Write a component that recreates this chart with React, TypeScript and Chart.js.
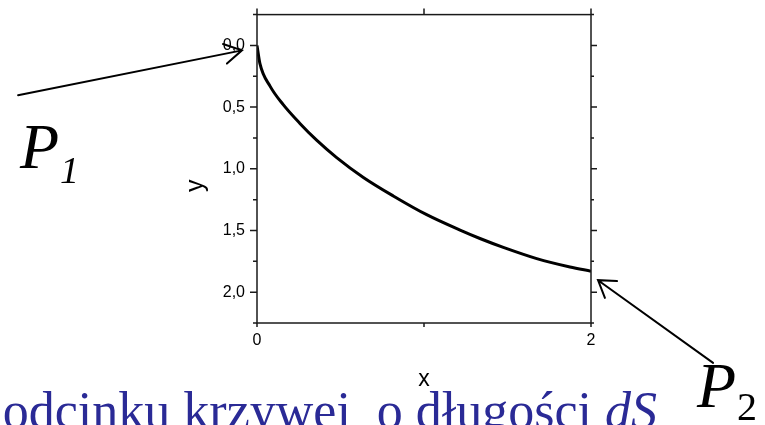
import React, { useEffect, useRef } from "react";
import { Chart, registerables } from "chart.js";

Chart.register(...registerables);

// ---- data ----
const curveX = [0, 0.018, 0.078, 0.157, 0.257, 0.357, 0.477, 0.637, 0.816, 1.016, 1.216, 1.335, 1.475, 1.675, 1.874, 2.0];
const curveY = [0, 0.15, 0.33, 0.48, 0.632, 0.768, 0.909, 1.07, 1.22, 1.372, 1.497, 1.565, 1.637, 1.728, 1.796, 1.83];

const xTickValues = [0, 1, 2];
const xTickLabelValues = [0, 2];
const yTickValues = [-0.25, 0, 0.25, 0.5, 0.75, 1, 1.25, 1.5, 1.75, 2, 2.25];
const yTickLabelValues = [0, 0.5, 1, 1.5, 2];

const xTitle = "x";
const yTitle = "y";
const pointLetter = "P";
const p1Index = "1";
const p2Index = "2";
const captionUpright = "odcinku krzywej  o długości ";
const captionItalic = "dS";

// annotation anchors in data units (tail -> tip)
const arrow1Tail = [-1.431, 0.403];
const arrow1Tip = [-0.09, 0.04];
const arrow2Tail = [2.731, 2.573];
const arrow2Tip = [2.042, 1.903];
const p1Anchor = [-1.419, 0.992];
const p2Anchor = [2.635, 2.927];

function drawArrow(ctx: CanvasRenderingContext2D, x0: number, y0: number, x1: number, y1: number, headLen: number, headAng: number) {
  const ang = Math.atan2(y0 - y1, x0 - x1);
  ctx.beginPath();
  ctx.moveTo(x0, y0);
  ctx.lineTo(x1, y1);
  ctx.moveTo(x1 + headLen * Math.cos(ang + headAng), y1 + headLen * Math.sin(ang + headAng));
  ctx.lineTo(x1, y1);
  ctx.lineTo(x1 + headLen * Math.cos(ang - headAng), y1 + headLen * Math.sin(ang - headAng));
  ctx.stroke();
}

const notesPlugin = {
  id: "frameAndNotes",
  afterDraw(chart: any) {
    const ctx: CanvasRenderingContext2D = chart.ctx;
    const xs = chart.scales.x;
    const ys = chart.scales.y;
    const { left, right, top, bottom } = chart.chartArea;
    const px = (v: number) => xs.getPixelForValue(v);
    const py = (v: number) => ys.getPixelForValue(v);

    ctx.save();
    // frame and tick marks
    ctx.strokeStyle = "#1a1a1a";
    ctx.lineWidth = 1.5;
    ctx.strokeRect(left, top, right - left, bottom - top);
    ctx.beginPath();
    for (const v of yTickValues) {
      const y = py(v);
      const major = yTickLabelValues.includes(v);
      ctx.moveTo(left - (major ? 7 : 4), y);
      ctx.lineTo(left, y);
      ctx.moveTo(right, y);
      ctx.lineTo(right + (major ? 6 : 3), y);
    }
    for (const v of xTickValues) {
      const x = px(v);
      ctx.moveTo(x, bottom);
      ctx.lineTo(x, bottom + 4);
      ctx.moveTo(x, top);
      ctx.lineTo(x, top - 6);
    }
    ctx.stroke();

    // axis titles
    ctx.fillStyle = "#000";
    ctx.font = "23px 'Liberation Sans', Arial, sans-serif";
    ctx.textAlign = "center";
    ctx.textBaseline = "middle";
    ctx.fillText(xTitle, px(1), bottom + 57);
    ctx.save();
    ctx.translate(196, py(1.137));
    ctx.rotate(-Math.PI / 2);
    ctx.font = "25px 'Liberation Sans', Arial, sans-serif";
    ctx.fillText(yTitle, 0, 0);
    ctx.restore();

    // arrows
    ctx.strokeStyle = "#000";
    ctx.lineWidth = 2;
    ctx.lineCap = "round";
    drawArrow(ctx, px(arrow1Tail[0]), py(arrow1Tail[1]), px(arrow1Tip[0]), py(arrow1Tip[1]), 20, (30 * Math.PI) / 180);
    drawArrow(ctx, px(arrow2Tail[0]), py(arrow2Tail[1]), px(arrow2Tip[0]), py(arrow2Tip[1]), 19, (33 * Math.PI) / 180);

    // P labels
    ctx.textAlign = "left";
    ctx.textBaseline = "alphabetic";
    ctx.font = "italic 64px 'Liberation Serif', 'Times New Roman', serif";
    const p1x = px(p1Anchor[0]);
    const p1y = py(p1Anchor[1]);
    ctx.fillText(pointLetter, p1x, p1y);
    ctx.font = "italic 38px 'Liberation Serif', 'Times New Roman', serif";
    ctx.fillText(p1Index, p1x + 40, p1y + 15);

    ctx.font = "italic 64px 'Liberation Serif', 'Times New Roman', serif";
    const p2x = px(p2Anchor[0]);
    const p2y = py(p2Anchor[1]);
    ctx.fillText(pointLetter, p2x, p2y);
    ctx.font = "40px 'Liberation Serif', 'Times New Roman', serif";
    ctx.fillText(p2Index, p2x + 40, p2y + 13);

    // caption
    ctx.fillStyle = "#2a2a96";
    ctx.font = "italic 52px 'Liberation Serif', 'Times New Roman', serif";
    const wIt = ctx.measureText(captionItalic).width;
    const endX = 657;
    const baseY = 428;
    ctx.textAlign = "left";
    ctx.fillText(captionItalic, endX - wIt, baseY);
    ctx.font = "52px 'Liberation Serif', 'Times New Roman', serif";
    ctx.textAlign = "right";
    ctx.fillText(captionUpright, endX - wIt, baseY);
    ctx.restore();
  },
};

export default function App() {
  const canvasRef = useRef<HTMLCanvasElement | null>(null);

  useEffect(() => {
    const canvas = canvasRef.current;
    if (!canvas) return;
    const points = curveX.map((x, i) => ({ x, y: curveY[i] }));
    const fmt = (v: number) => v.toFixed(1).replace(".", ",");
    const chart = new Chart(canvas, {
      type: "scatter",
      data: {
        datasets: [
          {
            data: points,
            showLine: true,
            borderColor: "#000",
            borderWidth: 3,
            pointRadius: 0,
            cubicInterpolationMode: "monotone",
          },
        ],
      },
      options: {
        responsive: false,
        animation: false,
        devicePixelRatio: 1,
        layout: { padding: 0 },
        plugins: { legend: { display: false }, tooltip: { enabled: false } },
        scales: {
          x: {
            type: "linear",
            position: "bottom",
            min: 0,
            max: 2,
            afterBuildTicks: (s: any) => {
              s.ticks = xTickValues.map((value) => ({ value }));
            },
            afterFit: (s: any) => {
              s.height = 102;
            },
            grid: { display: true, drawOnChartArea: false, drawTicks: true, tickLength: 4, color: "rgba(0,0,0,0)" },
            border: { display: false },
            ticks: {
              color: "#000",
              padding: 4,
              maxRotation: 0,
              autoSkip: false,
              font: { family: "'Liberation Sans', Arial, sans-serif", size: 16 },
              callback: (v: any) => (xTickLabelValues.includes(Number(v)) ? String(v) : ""),
            },
          },
          x2: {
            type: "linear",
            position: "top",
            min: 0,
            max: 2,
            afterFit: (s: any) => {
              s.height = 13;
            },
            grid: { display: false },
            border: { display: false },
            ticks: { display: false },
          },
          y: {
            type: "linear",
            position: "left",
            min: -0.25,
            max: 2.25,
            reverse: true,
            afterBuildTicks: (s: any) => {
              s.ticks = yTickValues.map((value) => ({ value }));
            },
            afterFit: (s: any) => {
              s.width = 257;
            },
            grid: { display: true, drawOnChartArea: false, drawTicks: true, tickLength: 7, color: "rgba(0,0,0,0)" },
            border: { display: false },
            ticks: {
              color: "#000",
              padding: 5,
              autoSkip: false,
              font: { family: "'Liberation Sans', Arial, sans-serif", size: 16 },
              callback: (v: any) => (yTickLabelValues.includes(Number(v)) ? fmt(Number(v)) : ""),
            },
          },
          y2: {
            type: "linear",
            position: "right",
            min: -0.25,
            max: 2.25,
            reverse: true,
            afterFit: (s: any) => {
              s.width = 174;
            },
            grid: { display: false },
            border: { display: false },
            ticks: { display: false },
          },
        },
      },
      plugins: [notesPlugin],
    } as any);
    return () => chart.destroy();
  }, []);

  return (
    <div style={{ position: "absolute", left: 0, top: 0, width: 765, height: 425, background: "#fff", overflow: "hidden" }}>
      <canvas ref={canvasRef} width={765} height={425} style={{ display: "block" }} />
    </div>
  );
}
